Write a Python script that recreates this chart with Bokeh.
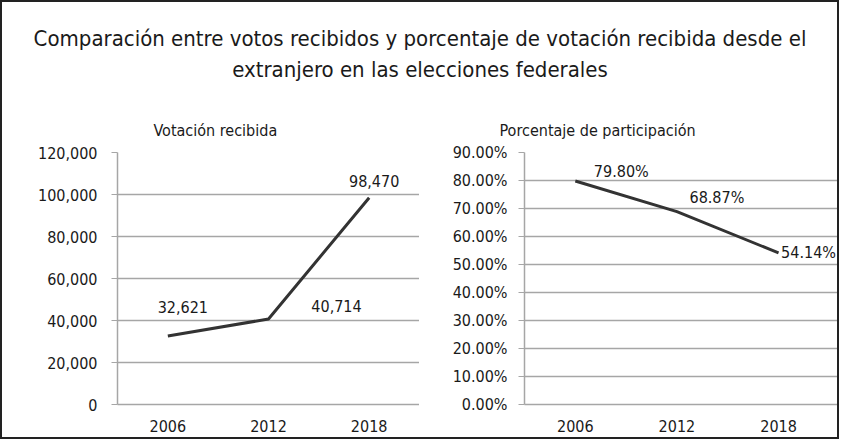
from bokeh.plotting import figure
from bokeh.layouts import column, row
from bokeh.models import (ColumnDataSource, LabelSet, Title, NumeralTickFormatter,
                          PrintfTickFormatter, SingleIntervalTicker, FixedTicker,
                          FactorRange, Range1d)
from bokeh.core.properties import value
from bokeh.embed import file_html
from bokeh.resources import INLINE

# ---- data ----
years = ["2006", "2012", "2018"]
votos = [32621, 40714, 98470]
votos_labels = ["32,621", "40,714", "98,470"]
porcentaje = [79.80, 68.87, 54.14]
porcentaje_labels = ["79.80%", "68.87%", "54.14%"]

main_title_1 = "Comparación entre votos recibidos y porcentaje de votación recibida desde el"
main_title_2 = "extranjero en las elecciones federales"
sub_left = "Votación recibida"
sub_right = "Porcentaje de participación"

FONT = "DejaVu Sans Condensed"
TXT = "#1a1a1a"
LINE = "#333333"
GRID = "#a6a6a6"

# ---- title panel ----
t = figure(width=835, height=87, output_backend="svg", toolbar_location=None,
           x_range=Range1d(0, 1), y_range=Range1d(0, 1),
           min_border_top=80, min_border_bottom=0, min_border_left=0, min_border_right=0)
t.axis.visible = False
t.grid.visible = False
t.outline_line_color = None
t.title = None
l2 = Title(text=main_title_2, align="center", text_font=FONT, text_font_size="22px",
           text_font_style="normal", text_color=TXT, standoff=2)
l1 = Title(text=main_title_1, align="center", text_font=FONT, text_font_size="22px",
           text_font_style="normal", text_color=TXT, standoff=6)
t.add_layout(l2, "above")
t.add_layout(l1, "above")


def style_axes(p):
    for ax in (p.xaxis, p.yaxis):
        ax.axis_line_color = GRID
        ax.axis_line_width = 1.5
        ax.major_label_text_font = FONT
        ax.major_label_text_font_size = "16px"
        ax.major_label_text_color = TXT
        ax.minor_tick_line_color = None
    p.yaxis.major_tick_out = 6
    p.yaxis.major_tick_in = 0
    p.yaxis.major_tick_line_color = GRID
    p.xaxis.major_tick_line_color = None
    p.xaxis.major_label_standoff = 9
    p.xgrid.grid_line_color = None
    p.ygrid.grid_line_color = GRID
    p.ygrid.grid_line_width = 1.5
    p.outline_line_color = None


# ---- left chart ----
src_l = ColumnDataSource(dict(x=years, y=votos, lab=votos_labels,
                              dx=[15, 68, 5], dy=[29, 13, 17]))
pl = figure(width=417, height=348, output_backend="svg", toolbar_location=None,
            x_range=FactorRange(*years), y_range=Range1d(0, 120000),
            min_border_left=115, min_border_right=0, min_border_top=63, min_border_bottom=33)
pl.title = Title(text=sub_left, align="left", offset=36, text_font=FONT, standoff=26,
                 text_font_size="16px", text_font_style="normal", text_color=TXT)
pl.line("x", "y", source=src_l, line_color=LINE, line_width=3)
pl.add_layout(LabelSet(x="x", y="y", text="lab", source=src_l, x_offset="dx", y_offset="dy",
                       text_align="center", text_baseline="middle", text_font=value(FONT),
                       text_font_size="16px", text_color=TXT))
style_axes(pl)
pl.yaxis.major_label_standoff = 14
pl.yaxis.ticker = SingleIntervalTicker(interval=20000)
pl.yaxis.formatter = NumeralTickFormatter(format="0,0")

# ---- right chart (numeric x so the last label has room past the last category) ----
xpos = [i + 0.5 for i in range(len(years))]
src_r = ColumnDataSource(dict(x=xpos, y=porcentaje, lab=porcentaje_labels,
                              dx=[46, 40, 30], dy=[10, 14, 0]))
pr = figure(width=418, height=348, output_backend="svg", toolbar_location=None,
            x_range=Range1d(0, 3.08), y_range=Range1d(0, 90),
            min_border_left=105, min_border_right=0, min_border_top=63, min_border_bottom=33)
pr.title = Title(text=sub_right, align="left", offset=-25, text_font=FONT, standoff=26,
                 text_font_size="16px", text_font_style="normal", text_color=TXT)
pr.line("x", "y", source=src_r, line_color=LINE, line_width=3)
pr.add_layout(LabelSet(x="x", y="y", text="lab", source=src_r, x_offset="dx", y_offset="dy",
                       text_align="center", text_baseline="middle", text_font=value(FONT),
                       text_font_size="16px", text_color=TXT))
style_axes(pr)
pr.xaxis.ticker = FixedTicker(ticks=xpos)
pr.xaxis.major_label_overrides = {x: y for x, y in zip(xpos, years)}
pr.yaxis.major_label_standoff = 11
pr.yaxis.ticker = SingleIntervalTicker(interval=10)
pr.yaxis.formatter = PrintfTickFormatter(format="%.2f%%")

layout = column(t, row(pl, pr, spacing=0), spacing=0,
                styles={"border": "2px solid #222222"})

open("out.html", "w").write(file_html(layout, INLINE))
